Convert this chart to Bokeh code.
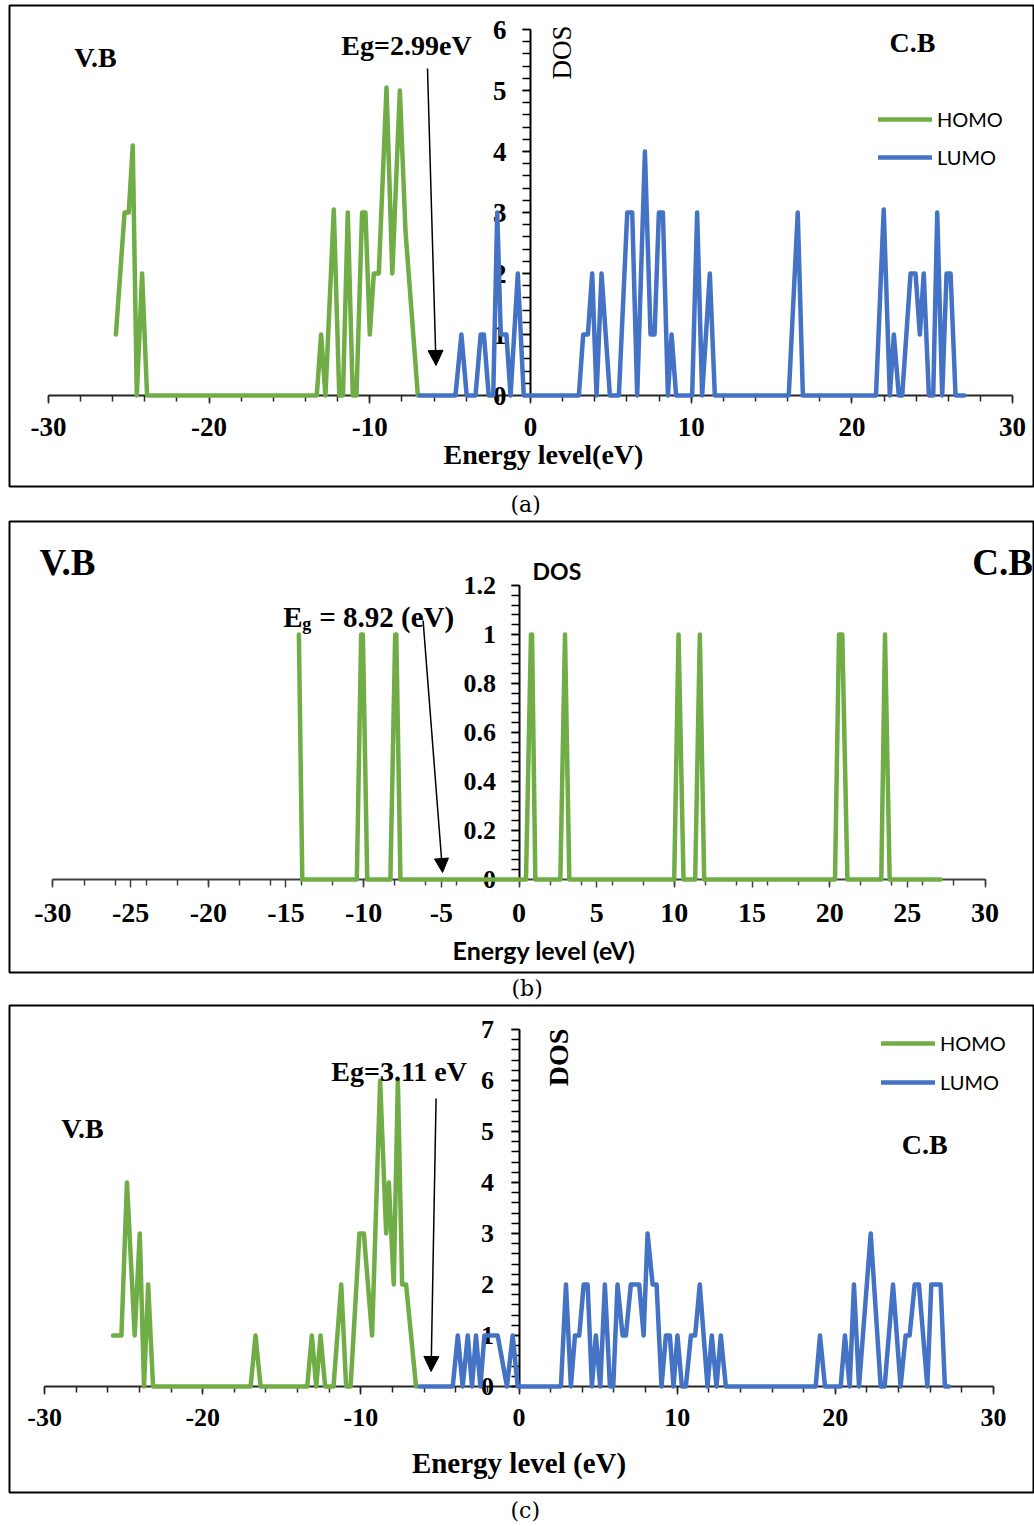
from math import pi
from bokeh.plotting import figure
from bokeh.models import (LinearAxis, FixedTicker, Label, Arrow, NormalHead,
                          Legend, LegendItem, Range1d, Title)
from bokeh.layouts import column
from bokeh.embed import file_html
from bokeh.resources import INLINE

GREEN = "#70AD47"
BLUE = "#4472C4"
SERIF = "Liberation Serif"
SANS = "Lato"
CAPTION_FONT = "DejaVu Serif"

# ---------------- data ----------------
# panel (a)
A_HOMO_X = [-25.8, -25.26, -25.0, -24.75, -24.5, -24.17, -23.86, -13.3, -13.03, -12.76,
            -12.24, -11.9, -11.67, -11.37, -11.06, -10.83, -10.48, -10.27, -10.0, -9.75,
            -9.44, -8.96, -8.6, -8.13, -7.78, -7.01]
A_HOMO_Y = [1, 3, 3, 4.1, 0, 2, 0, 0, 1, 0,
            3.05, 0, 0, 3, 0, 0, 3, 3, 1, 2,
            2, 5.05, 2, 5, 2.7, 0]
A_LUMO_X = [-6.9, -4.67, -4.3, -3.97, -3.42, -3.1, -2.9, -2.6, -2.32, -2.07,
            -1.85, -1.5, -1.24, -0.79, -0.42, 3.01, 3.28, 3.57, 3.84, 4.11,
            4.42, 4.94, 5.5, 6.02, 6.33, 6.64, 7.12, 7.47, 7.72, 7.99,
            8.24, 8.55, 8.78, 9.06, 10.06, 10.37, 10.68, 11.16, 11.47, 16.07,
            16.63, 16.95, 21.5, 21.98, 22.36, 22.61, 22.92, 23.13, 23.65, 23.96,
            24.23, 24.47, 24.79, 25.06, 25.31, 25.62, 25.89, 26.14, 26.45, 27.0]
A_LUMO_Y = [0, 0, 1, 0, 0, 1, 1, 0, 0, 3,
            1, 1, 0, 2, 0, 0, 1, 1, 2, 0,
            2, 0, 0, 3, 3, 0, 4, 1, 1, 3,
            3, 0, 1, 0, 0, 3, 0, 2, 0, 0,
            3, 0, 0, 3.05, 0, 1, 0, 0, 2, 2,
            1, 2, 0, 0, 3, 0, 2, 2, 0, 0]
A_XTICKS = [-30, -20, -10, 0, 10, 20, 30]
A_XLABELS = ["-30", "-20", "-10", "0", "10", "20", "30"]
A_YTICKS = [0, 1, 2, 3, 4, 5, 6]
A_YLABELS = ["0", "1", "2", "3", "4", "5", "6"]

# panel (b)
B_HOMO_X = [-14.17, -13.95, -10.44, -10.16, -10.05, -9.77, -8.28, -7.97, -7.9, -7.63,
            0.45, 0.77, 0.84, 1.05, 2.66, 2.96, 3.24, 9.99, 10.27, 10.59,
            11.34, 11.64, 11.92, 20.34, 20.6, 20.81, 21.14, 23.32, 23.56, 23.86, 27.14]
B_HOMO_Y = [1, 0, 0, 1, 1, 0, 0, 1, 1, 0,
            0, 1, 1, 0, 0, 1, 0, 0, 1, 0,
            0, 1, 0, 0, 1, 1, 0, 0, 1, 0, 0]
B_XTICKS = [-30, -25, -20, -15, -10, -5, 0, 5, 10, 15, 20, 25, 30]
B_XLABELS = ["-30", "-25", "-20", "-15", "-10", "-5", "0", "5", "10", "15", "20", "25", "30"]
B_YTICKS = [0, 0.2, 0.4, 0.6, 0.8, 1, 1.2]
B_YLABELS = ["0", "0.2", "0.4", "0.6", "0.8", "1", "1.2"]

# panel (c)
C_HOMO_X = [-25.67, -25.14, -24.79, -24.3, -23.98, -23.71, -23.45, -23.14, -16.97, -16.66,
            -16.34, -13.39, -13.1, -12.82, -12.55, -12.26, -11.73, -11.24, -10.93, -10.65,
            -10.09, -9.81, -9.29, -8.78, -8.4, -8.23, -7.92, -7.66, -7.39, -7.14, -6.51]
C_HOMO_Y = [1, 1, 4, 1, 3, 0, 2, 0, 0, 1,
            0, 0, 1, 0, 1, 0, 0, 2, 0, 0,
            3, 3, 1, 6, 3, 4, 2, 6, 2, 2, 0]
C_LUMO_X = [-6.3, -4.19, -3.87, -3.56, -3.24, -2.97, -2.72, -2.44, -2.19, -1.35,
            -0.76, -0.4, -0.08, 2.65, 2.97, 3.28, 3.54, 3.81, 4.09, 4.34,
            4.61, 4.86, 5.14, 5.43, 5.75, 5.96, 6.23, 6.55, 6.76, 7.07,
            7.6, 7.88, 8.13, 8.45, 8.7, 9.01, 9.29, 9.54, 9.77, 10.02,
            10.3, 10.55, 10.87, 11.14, 11.43, 11.92, 12.19, 12.49, 12.76, 13.08,
            18.76, 19.03, 19.35, 20.34, 20.61, 20.91, 21.18, 21.5, 22.24, 22.87,
            23.12, 23.65, 24.13, 24.45, 24.7, 25.02, 25.29, 25.82, 26.07, 26.66,
            26.93, 27.18]
C_LUMO_Y = [0, 0, 1, 0, 1, 0, 1, 0, 1, 1,
            0, 1, 0, 0, 2, 0, 1, 1, 2, 2,
            0, 1, 0, 2, 0, 0, 2, 1, 1, 2,
            2, 1, 3, 2, 2, 0, 1, 1, 0, 1,
            0, 0, 1, 1, 2, 0, 1, 0, 1, 0,
            0, 1, 0, 0, 1, 0, 2, 0, 3, 0,
            0, 2, 0, 1, 1, 2, 2, 0, 2, 2,
            0, 0]
C_XTICKS = [-30, -20, -10, 0, 10, 20, 30]
C_XLABELS = ["-30", "-20", "-10", "0", "10", "20", "30"]
C_YTICKS = [0, 1, 2, 3, 4, 5, 6, 7]
C_YLABELS = ["0", "1", "2", "3", "4", "5", "6", "7"]

# ---------------- layout helpers ----------------
W = 1034


def make_fig(fig_top, fig_h, cap_h, ml, mt, x0, sx, y0, sy, caption, cap_left,
             cap_standoff):
    mr = 0
    L = ml
    R = W - mr
    T = fig_top + mt
    B = fig_top + fig_h - cap_h
    xr = Range1d((L - x0) / sx, (R - x0) / sx)
    yr = Range1d((y0 - B) / sy, (y0 - T) / sy)
    p = figure(width=W, height=fig_h, x_range=xr, y_range=yr,
               x_axis_type=None, y_axis_type=None, toolbar_location=None,
               output_backend="svg", title=None,
               min_border_left=ml, min_border_right=mr,
               min_border_top=mt, min_border_bottom=cap_h)
    p.outline_line_color = "black"
    p.outline_line_width = 2
    p.outline_line_alpha = 1
    p.background_fill_color = "white"
    p.border_fill_color = "white"
    p.add_layout(Title(text=caption, align="left", offset=cap_left - ml,
                       vertical_align="bottom", text_font=CAPTION_FONT,
                       text_font_style="normal", text_font_size="22px",
                       text_color="black", standoff=cap_standoff), "below")
    fx = lambda px: (px - x0) / sx
    fy = lambda py: (y0 - py) / sy
    return p, fx, fy


def add_axes(p, xt, xl, xminor, yt, yl, yminor, xfs, yfs, xstand, ystand,
             xcolor="#262626"):
    xa = LinearAxis(fixed_location=0, bounds=(xt[0], xt[-1]),
                    ticker=FixedTicker(ticks=xt, minor_ticks=xminor),
                    major_label_overrides={t: s for t, s in zip(xt, xl)})
    xa.axis_line_color = xcolor
    xa.axis_line_width = 2
    xa.major_tick_line_color = xcolor
    xa.minor_tick_line_color = xcolor
    xa.major_tick_line_width = 1.5
    xa.minor_tick_line_width = 1.5
    xa.major_tick_in = 0
    xa.major_tick_out = 8
    xa.minor_tick_in = 0
    xa.minor_tick_out = 6
    xa.major_label_standoff = xstand
    xa.major_label_text_font = SERIF
    xa.major_label_text_font_style = "bold"
    xa.major_label_text_font_size = f"{xfs}px"
    xa.major_label_text_color = "black"
    p.add_layout(xa, "below")

    ya = LinearAxis(fixed_location=0, bounds=(yt[0], yt[-1]),
                    ticker=FixedTicker(ticks=yt, minor_ticks=yminor),
                    major_label_overrides={t: s for t, s in zip(yt, yl)})
    ya.axis_line_color = "black"
    ya.axis_line_width = 2
    ya.major_tick_line_color = "black"
    ya.minor_tick_line_color = "black"
    ya.major_tick_line_width = 1.5
    ya.minor_tick_line_width = 1.5
    ya.major_tick_in = 0
    ya.major_tick_out = 8
    ya.minor_tick_in = 0
    ya.minor_tick_out = 8
    ya.major_label_standoff = ystand
    ya.major_label_text_font = SERIF
    ya.major_label_text_font_style = "bold"
    ya.major_label_text_font_size = f"{yfs}px"
    ya.major_label_text_color = "black"
    ya.major_label_orientation = "horizontal"
    p.add_layout(ya, "left")


def txt(p, x, y, text, size, font=SERIF, style="bold", align="center",
        baseline="middle", angle=0.0):
    p.add_layout(Label(x=x, y=y, text=text, text_font=font,
                       text_font_size=f"{size}px", text_font_style=style,
                       text_align=align, text_baseline=baseline, angle=angle,
                       text_color="black"))


def arrow(p, x1, y1, x2, y2, size=15):
    p.add_layout(Arrow(end=NormalHead(size=size, fill_color="black",
                                      line_color="black", line_width=1),
                       x_start=x1, y_start=y1, x_end=x2, y_end=y2,
                       line_color="black", line_width=1.5))


def series(p, xs, ys, color):
    return p.line(xs, ys, line_color=color, line_width=4.5, line_join="round",
                  line_cap="round", level="annotation")


def legend(p, r1, r2, lx, ly, spacing):
    lg = Legend(items=[LegendItem(label="HOMO", renderers=[r1]),
                       LegendItem(label="LUMO", renderers=[r2])],
                location=(lx, ly), orientation="vertical",
                border_line_color=None, background_fill_alpha=0,
                padding=0, margin=0, spacing=spacing,
                glyph_width=54, glyph_height=20, label_height=20,
                label_standoff=5, label_text_font=SANS,
                label_text_font_size="20px", label_text_color="black")
    p.add_layout(lg)


even_minor = list(range(-30, 31, 2))

# ---------------- panel (a) ----------------
pa, ax, ay = make_fig(0, 520, 34, 9, 5, 530, 16.07, 395, 61, "(a)", 510, 7)
add_axes(pa, A_XTICKS, A_XLABELS, even_minor, A_YTICKS, A_YLABELS,
         [round(i * 0.2, 2) for i in range(31)], 27, 27, 14, 16)
ra1 = series(pa, A_HOMO_X, A_HOMO_Y, GREEN)
ra2 = series(pa, A_LUMO_X, A_LUMO_Y, BLUE)
txt(pa, ax(95), ay(57), "V.B", 28)
txt(pa, ax(912), ay(42), "C.B", 28)
txt(pa, ax(406), ay(45), "Eg=2.99eV", 28)
txt(pa, ax(561), ay(52), "DOS", 27, style="normal", angle=pi / 2)
txt(pa, ax(543), ay(454), "Energy level(eV)", 28)
arrow(pa, ax(427), ay(68), ax(435.5), ay(365))
legend(pa, ra1, ra2, 878 - 9, 317.5, 14)

# ---------------- panel (b) ----------------
pb, bx, by = make_fig(520, 484, 32, 8, 1, 518, 15.55, 879, 245, "(b)", 510, 3)
add_axes(pb, B_XTICKS, B_XLABELS, even_minor, B_YTICKS, B_YLABELS,
         [round(i * 0.04, 2) for i in range(31)], 28, 26, 16, 15,
         xcolor="#404040")
series(pb, B_HOMO_X, B_HOMO_Y, GREEN)
txt(pb, bx(66), by(562), "V.B", 37)
txt(pb, bx(1002), by(562), "C.B", 37)
txt(pb, bx(282), by(616), "E", 29, align="left", baseline="alphabetic")
txt(pb, bx(301), by(623), "g", 18, align="left", baseline="alphabetic")
txt(pb, bx(318), by(616), "= 8.92 (eV)", 29, align="left", baseline="alphabetic")
txt(pb, bx(556), by(570), "DOS", 23, font=SANS)
txt(pb, bx(543), by(949), "Energy level (eV)", 25, font=SANS)
arrow(pb, bx(422), by(620), bx(441.5), by(872), size=14)

# ---------------- panel (c) ----------------
pc, cx, cy = make_fig(1004, 522, 34, 8, 1, 518, 15.83, 1386, 51, "(c)", 509, 7)
add_axes(pc, C_XTICKS, C_XLABELS, even_minor, C_YTICKS, C_YLABELS,
         [round(i * 0.2, 2) for i in range(36)], 26, 26, 14, 17)
rc1 = series(pc, C_HOMO_X, C_HOMO_Y, GREEN)
rc2 = series(pc, C_LUMO_X, C_LUMO_Y, BLUE)
txt(pc, cx(81), cy(1128), "V.B", 28)
txt(pc, cx(924), cy(1144), "C.B", 28)
txt(pc, cx(398), cy(1071), "Eg=3.11 eV", 28)
txt(pc, cx(558), cy(1057), "DOS", 28, angle=pi / 2)
txt(pc, cx(518), cy(1462), "Energy level (eV)", 29)
arrow(pc, cx(435), cy(1098), cx(430), cy(1371))
legend(pc, rc1, rc2, 880 - 8, 398.5, 15)

page = column(pa, pb, pc, spacing=0)
open("out.html", "w").write(file_html(page, INLINE))
